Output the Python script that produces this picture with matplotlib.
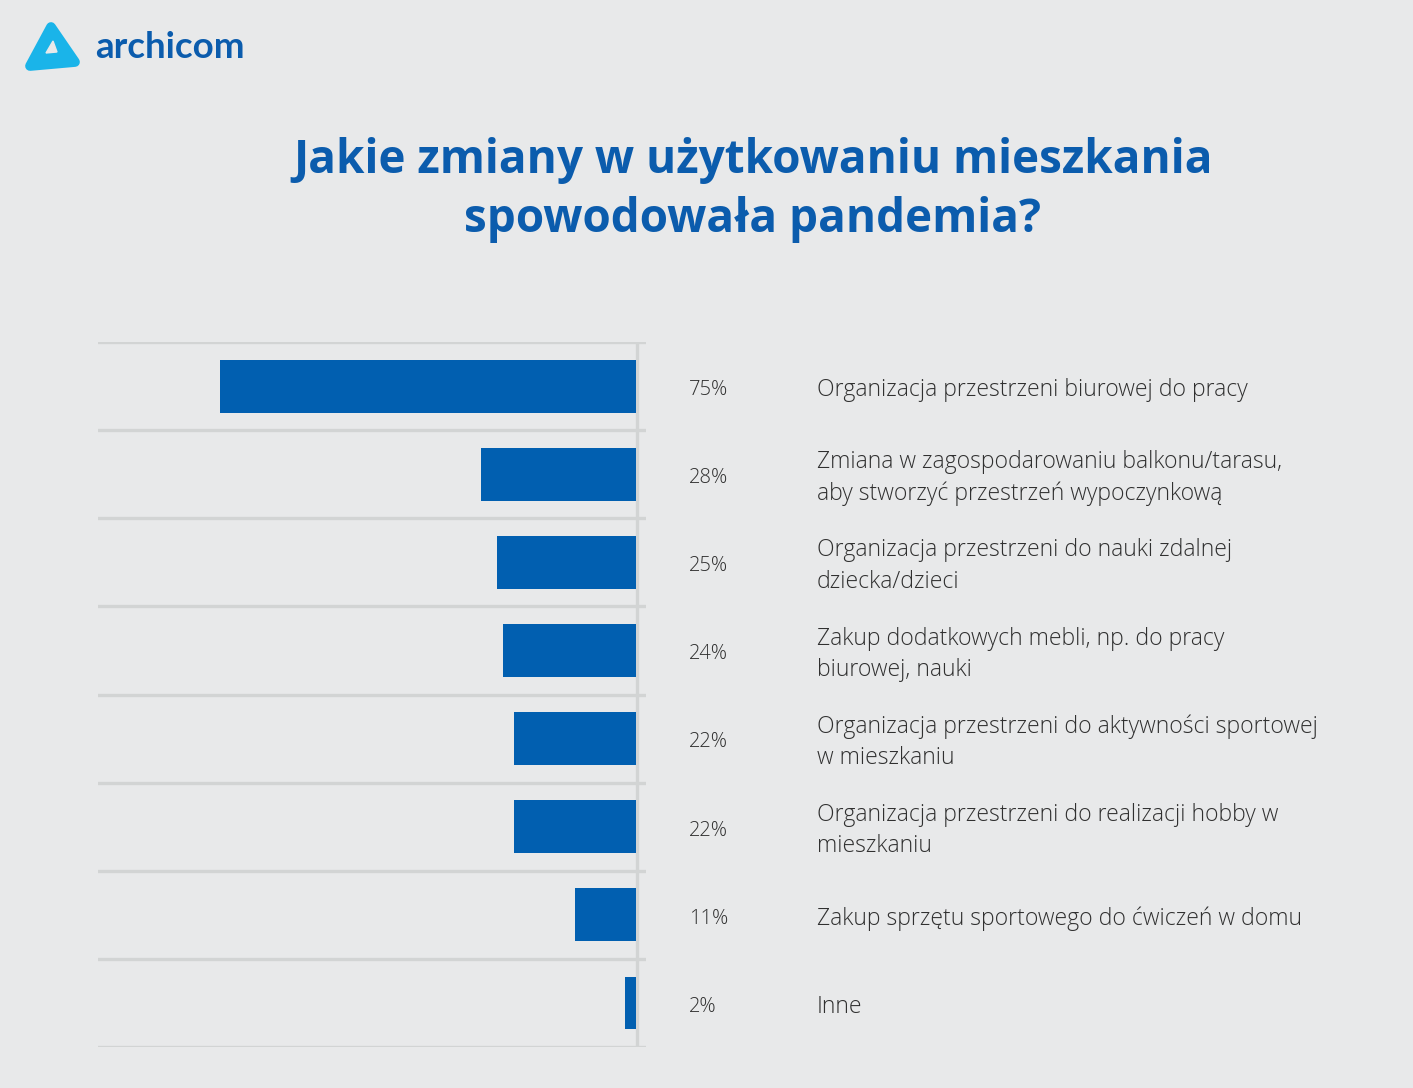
import matplotlib.pyplot as plt
from matplotlib.patches import Polygon

labels = [
    "Organizacja przestrzeni biurowej do pracy",
    "Zmiana w zagospodarowaniu balkonu/tarasu,\naby stworzyć przestrzeń wypoczynkową",
    "Organizacja przestrzeni do nauki zdalnej\ndziecka/dzieci",
    "Zakup dodatkowych mebli, np. do pracy\nbiurowej, nauki",
    "Organizacja przestrzeni do aktywności sportowej\nw mieszkaniu",
    "Organizacja przestrzeni do realizacji hobby w\nmieszkaniu",
    "Zakup sprzętu sportowego do ćwiczeń w domu",
    "Inne",
]
values = [75, 28, 25, 24, 22, 22, 11, 2]

BG = "#e8e9ea"
BLUE = "#015fb0"
GRID = "#d2d4d4"
TEXT = "#303030"

W, H = 1413, 1088
fig = plt.figure(figsize=(W / 100, H / 100), dpi=100, facecolor=BG)

# chart axes (pixel box 98..646 x 342..1047)
ax = fig.add_axes([98 / W, 1 - 1047 / H, 548 / W, 705 / H])
ax.set_facecolor(BG)
y = list(range(len(values)))
ax.barh(y, values, height=0.6, color=BLUE, zorder=2)
ax.set_xlim(97, -1.8)
ax.set_ylim(len(values) - 0.5, -0.5)
for i in range(len(values) + 1):
    ax.axhline(i - 0.5, color=GRID, lw=2.4, zorder=1)
ax.plot([-0.2, -0.2], [-0.5, len(values) - 0.5], color=GRID, lw=2.4, zorder=1,
        solid_capstyle="butt")
ax.axis("off")

for i, (v, lab) in enumerate(zip(values, labels)):
    row = 342 + 88.1 * (i + 0.5)
    fig.text(689 / W, 1 - (row + 4) / H, f"{v}%", fontsize=14.5, color=TEXT,
             va="center", ha="left", family="Open Sans", fontweight="light")
    fig.text(817 / W, 1 - (row + 4) / H, lab, fontsize=16.6, color=TEXT,
             va="center", ha="left", family="Open Sans", fontweight="light",
             linespacing=1.42)

# title
fig.text(753 / W, 1 - 190 / H, "Jakie zmiany w użytkowaniu mieszkania\nspowodowała pandemia?",
         fontsize=33, color="#0b5cad", fontweight="bold", family="Open Sans",
         ha="center", va="center", linespacing=1.32)

# logo
def px(x, yy):
    return (x / W, 1 - yy / H)

outer = Polygon([px(30, 66), px(51, 27), px(75, 62)], closed=True,
                transform=fig.transFigure, facecolor="#1ab4e9",
                edgecolor="#1ab4e9", lw=7, joinstyle="round")
inner = Polygon([px(46, 53), px(53, 41), px(57, 52)], closed=True,
                transform=fig.transFigure, facecolor=BG, edgecolor=BG, lw=1)
fig.patches.extend([outer, inner])
fig.text(95 / W, 1 - 47 / H, "archicom", fontsize=26.5, color="#0b5cad",
         fontweight="bold", family="Lato", va="center", ha="left")

fig.savefig("out.png", dpi=100, facecolor=BG)
